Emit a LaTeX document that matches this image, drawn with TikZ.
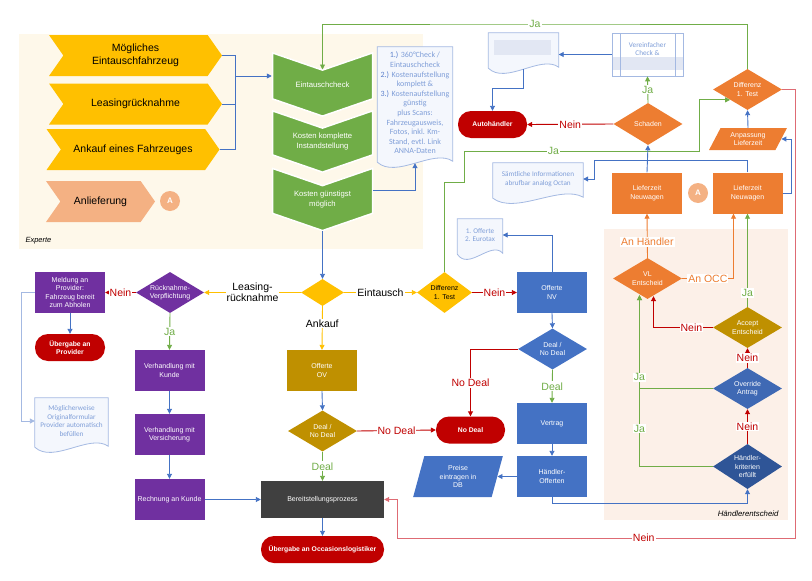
\documentclass[tikz,border=0pt]{standalone}
\usepackage{fontspec}
\setmainfont{Liberation Sans}
\newfontfamily\notefont{Carlito}
\usetikzlibrary{arrows.meta,positioning,calc,shapes.geometric,shapes.symbols}

\definecolor{gelb}{HTML}{FFC000}
\definecolor{lachs}{HTML}{F4B183}
\definecolor{gruen}{HTML}{70AD47}
\definecolor{blau}{HTML}{4472C4}
\definecolor{oblau}{HTML}{3F69B4}
\definecolor{dblau}{HTML}{2F5597}
\definecolor{orng}{HTML}{ED7D31}
\definecolor{lila}{HTML}{7030A0}
\definecolor{gold}{HTML}{BF9000}
\definecolor{rot}{HTML}{C00000}
\definecolor{hellrot}{HTML}{DE6B74}
\definecolor{grau}{HTML}{404040}
\definecolor{creme}{HTML}{FEF8EA}
\definecolor{pfirsich}{HTML}{FCF0E8}
\definecolor{doctext}{HTML}{7F9ED8}
\definecolor{docnum}{HTML}{5B80CC}
\definecolor{docline}{HTML}{A4B9E2}
\definecolor{docfill}{HTML}{F4F7FD}
\definecolor{blur}{HTML}{E2E7F3}

\pgfdeclarelayer{back}
\pgfdeclarelayer{docs}
\pgfsetlayers{back,docs,main}

\newcommand\docform[1]{%
  \draw[docline,fill=docfill,line width=.8pt] (#1.north west) -- (#1.north east)
    -- ([yshift=-2pt]#1.south east)
    .. controls ($(#1.south)!.5!(#1.south east)+(0pt,11pt)$) and ($(#1.south)!.5!(#1.south west)+(0pt,-20pt)$)
    .. ([yshift=-3pt]#1.south west) -- cycle;}

\tikzset{
  base/.style={inner sep=1pt, align=center, text=white, font=\fontsize{7}{8.4}\selectfont},
  chev/.style={signal, signal from=west, signal to=east, signal pointer angle=110, fill=gelb,
    minimum width=173, minimum height=41, align=center, font=\fontsize{10.5}{12.6}\selectfont},
  gchev/.style={base, signal, signal from=north, signal to=south, signal pointer angle=142,
    fill=gruen, draw=white, line width=1.5pt, minimum width=100, minimum height=48,
    font=\fontsize{7.7}{9.4}\selectfont},
  box/.style={base, rectangle, minimum width=70, minimum height=41},
  dia/.style={base, diamond, aspect=1.7, inner sep=0pt, minimum width=69, minimum height=41},
  term/.style={base, rectangle, rounded corners=13pt, fill=rot, minimum height=27,
    font=\fontsize{6.8}{8}\selectfont\bfseries},
  para/.style={base, trapezium, trapezium stretches=true, fill=blau},
  doc/.style={inner sep=1pt, align=center, text=doctext, font=\notefont\fontsize{7.2}{8.6}\selectfont},
  predef/.style={rectangle, draw=docline, fill=white, line width=.8pt, text=doctext, align=center,
    inner sep=1pt, font=\notefont\fontsize{7.2}{8.6}\selectfont, minimum width=71, minimum height=43,
    path picture={
      \fill[blur] ([yshift=6pt]path picture bounding box.south west) rectangle ([yshift=19pt]path picture bounding box.south east);
      \draw[docline, line width=.8pt] ([xshift=8pt]path picture bounding box.north west) -- ([xshift=8pt]path picture bounding box.south west)
        ([xshift=-8pt]path picture bounding box.north east) -- ([xshift=-8pt]path picture bounding box.south east);}},
  kreis/.style={circle, fill=lachs, text=white, minimum size=20, inner sep=0pt, font=\fontsize{8}{8}\selectfont\bfseries},
  lbl/.style={fill=white, inner sep=1pt, align=center, font=\fontsize{10.5}{11}\selectfont},
  con/.style={draw=blau, line width=.9pt},
  arr/.style={con, -{Triangle[length=5pt,width=5pt]}}
}

\begin{document}
\begin{tikzpicture}[x=1pt,y=-1pt]
\useasboundingbox (0,0) rectangle (812,581);
\begin{pgfonlayer}{back}
\fill[creme] (19,34) rectangle (423,249);
\fill[pfirsich] (604,229) rectangle (788,520);
\end{pgfonlayer}
\node[anchor=west, font=\fontsize{7.5}{9}\selectfont\itshape] (experte) at (22,241) {Experte};
\node[anchor=east, font=\fontsize{7.8}{9}\selectfont\itshape] (entscheidTxt) at (782,514) {Händlerentscheid};

% Eingang
\node[chev] (moeglich) at (135.5,55.5) {Mögliches\\Eintauschfahrzeug};
\node[chev] (leasing) at (135.5,104) {Leasingrücknahme};
\node[chev] (ankauf) at (133,149.5) {Ankauf eines Fahrzeuges};
\node[chev, fill=lachs, minimum width=109] (anlief) at (100.5,201.5) {Anlieferung};
\node[kreis] (kreisA) at (170,201) {A};

% Experte
\node[gchev] (check) at (322.5,84.5) {Eintauschcheck};
\node[gchev] (komplett) at (322.5,141.5) {Kosten komplette\\Instandstellung};
\node[gchev] (guenstig) at (322.5,199.5) {Kosten günstigst\\möglich};
\node[doc, minimum width=75, minimum height=112, font=\notefont\fontsize{8}{9.6}\selectfont] (notes) at (415,103)
  {{\color{docnum}1.)} 360°Check /\\Eintauschcheck\\{\color{docnum}2.)} Kostenaufstellung\\komplett \&\\
   {\color{docnum}3.)} Kostenaufstellung\\günstig\\plus Scans:\\Fahrzeugausweis,\\Fotos, inkl. Km-\\Stand, evtl. Link\\ANNA-Daten};

% Weiche
\node[dia, fill=gelb, minimum width=43, minimum height=27, aspect=1.6] (art) at (322.5,292.5) {};
\node[dia, fill=gelb, text=black, minimum width=55, aspect=1.35] (diffGelb) at (444.5,292.5) {Differenz\\1. Test};
\node[dia, fill=lila, minimum width=68, aspect=1.66] (ruecknahme) at (170,292.5) {Rücknahme-\\Verpflichtung};

% Leasing
\node[box, fill=lila] (meldung) at (70,292.5) {Meldung an\\Provider:\\Fahrzeug bereit\\zum Abholen};
\node[term, minimum width=70] (uebProv) at (70,347.5) {Übergabe an\\Provider};
\node[doc, minimum width=73, minimum height=46] (formular) at (71.5,421) {Möglicherweise\\Originalformular\\Provider automatisch\\befüllen};
\node[box, fill=lila] (verhKunde) at (169.5,370.5) {Verhandlung mit\\Kunde};
\node[box, fill=lila] (verhVers) at (169.5,434.5) {Verhandlung mit\\Versicherung};
\node[box, fill=lila] (rechnung) at (169.5,499.5) {Rechnung an Kunde};

% Ankauf
\node[box, fill=gold] (offOV) at (322,370.5) {Offerte\\OV};
\node[dia, fill=gold] (dealOV) at (322.5,431) {Deal /\\No Deal};
\node[box, fill=grau, minimum width=123, minimum height=37] (bereit) at (322.5,499.5) {Bereitstellungsprozess};
\node[term, minimum width=123] (uebOcc) at (322.5,549.5) {Übergabe an Occasionslogistiker};

% Eintausch
\node[box, fill=blau] (offNV) at (552,292.5) {Offerte\\NV};
\node[doc, minimum width=45, minimum height=32] (eurotax) at (480,235) {1. Offerte\\2. Eurotax};
\node[dia, fill=blau] (dealNV) at (552.5,349) {Deal /\\No Deal};
\node[term, minimum width=69] (noDeal) at (470.5,430) {No Deal};
\node[box, fill=blau] (vertrag) at (552,423.5) {Vertrag};
\node[box, fill=blau] (hOff) at (552,476.5) {Händler-\\Offerten};
\node[para, trapezium left angle=75, trapezium right angle=105, minimum width=90, minimum height=41] (preise) at (458,476.5) {Preise\\eintragen in\\DB};

% oben rechts
\node[doc, minimum width=70, minimum height=32] (leer) at (523.5,49) {};
\node[predef] (vereinf) at (647.5,54.5) {Vereinfacher\\Check \&\\\strut};
\node[term, minimum width=69] (autoh) at (492.5,124.5) {Autohändler};
\node[dia, fill=orng, minimum height=42] (schaden) at (648,124) {Schaden};
\node[dia, fill=orng] (diffOr) at (747.5,89.5) {Differenz\\1. Test};
\node[para, fill=orng, trapezium left angle=63, trapezium right angle=117, minimum width=78, minimum height=22] (anpass) at (748,139) {Anpassung\\Lieferzeit};
\node[doc, minimum width=90, minimum height=32] (infos) at (538,179) {Sämtliche Informationen\\abrufbar analog Octan};
\node[box, fill=orng] (lzL) at (647,193) {Lieferzeit\\Neuwagen};
\node[kreis] (kreisA2) at (698,193) {A};
\node[box, fill=orng] (lzR) at (747.5,193) {Lieferzeit\\Neuwagen};

% Haendlerentscheid
\node[dia, fill=orng] (vl) at (647.5,278.5) {VL\\Entscheid};
\node[dia, fill=gold] (accept) at (747.5,327.5) {Accept\\Entscheid};
\node[dia, fill=oblau] (override) at (747.5,388.5) {Override\\Antrag};
\node[dia, fill=dblau, minimum height=45] (kriterien) at (747.5,466.5) {Händler-\\kriterien\\erfüllt};

\begin{pgfonlayer}{docs}
\docform{notes}
\docform{infos}
\docform{eurotax}
\docform{formular}
\docform{leer}
\fill[blur] ([xshift=6pt,yshift=-7pt]leer.north west) rectangle ([xshift=-8pt,yshift=-22pt]leer.north east);
\end{pgfonlayer}

% Verbindungen
\coordinate (sammel) at (235,76);
\draw[con] (moeglich.east) -| (sammel);
\draw[con] (leasing.east) -| (sammel);
\draw[con] (ankauf.east) -| (sammel);
\draw[arr] (sammel) -- (sammel -| check.west);
\draw[arr] ([yshift=9pt]guenstig.east) -| ([yshift=-4pt]notes.south);
\coordinate (jaOben) at (535,24);
\draw[arr, draw=gruen] (diffOr.north) |- (jaOben) node[lbl, text=gruen]{Ja} -| ([yshift=15pt]check.center);
\draw[arr] (guenstig.south) -- (art.north);

\draw[arr, draw=gelb] (art.west) -- node[lbl]{Leasing-\\rücknahme} (ruecknahme.east);
\draw[arr, draw=gelb] (art.east) -- node[lbl]{Eintausch} (diffGelb.west);
\draw[arr, draw=gelb] (art.south) -- node[lbl, pos=.4]{Ankauf} (offOV.north);

\draw[arr, draw=rot] (ruecknahme.west) -- node[lbl, text=rot]{Nein} (meldung.east);
\draw[arr] (meldung.south) -- (uebProv.north);
\draw[arr, draw=docline] (meldung.west) -- ++(-13,0) |- (formular.west);
\draw[arr, draw=gruen] (ruecknahme.south) -- node[lbl, text=gruen]{Ja} (verhKunde.north);
\draw[arr] (verhKunde.south) -- (verhVers.north);
\draw[arr] (verhVers.south) -- (rechnung.north);
\draw[arr] (rechnung.east) -- (bereit.west);

\draw[arr] (offOV.south) -- (dealOV.north);
\draw[arr, draw=rot] (dealOV.east) -- node[lbl, text=rot]{No Deal} (noDeal.west);
\draw[arr, draw=gruen] (dealOV.south) -- node[lbl, text=gruen]{Deal} (bereit.north);
\draw[arr] (bereit.south) -- (uebOcc.north);

\draw[arr, draw=rot] (diffGelb.east) -- node[lbl, text=rot]{Nein} (offNV.west);
\draw[arr] (offNV.north) |- (eurotax.east);
\draw[arr] (offNV.south) -- (dealNV.north);
\draw[arr, draw=rot] (dealNV.west) -| node[lbl, text=rot, pos=.75]{No Deal} (noDeal.north);
\draw[arr, draw=gruen] (dealNV.south) -- node[lbl, text=gruen]{Deal} (vertrag.north);
\draw[arr] (vertrag.south) -- (hOff.north);
\draw[arr] (hOff.west) -- (preise.east);
\draw[arr] (hOff.south) -- ++(0,6) -| (kriterien.south);
\coordinate (gA) at (464,182);
\coordinate (gB) at (699,151);
\draw[arr, draw=gruen] (diffGelb.north) |- (gA) |- node[lbl, text=gruen, pos=.69]{Ja} (gB) |- (diffOr.south west);

\draw[arr] (vereinf.west) -- (vereinf.west -| leer.east);
\draw[arr] ([yshift=-4pt]leer.south) -- ++(0,19) -| (autoh.north);
\draw[arr, draw=rot] (schaden.west) -- node[lbl, text=rot]{Nein} (autoh.east);
\draw[arr, draw=gruen] (schaden.north) -- node[lbl, text=gruen]{Ja} (vereinf.south);
\draw[arr] (lzL.north) -- (schaden.south);
\coordinate (bKnick) at (594,160);
\draw[arr] (lzR.north) |- (bKnick) |- (infos.east);
\draw[arr] (lzR.east) -- ++(9,0) |- (anpass.east);
\draw[arr] (anpass.north) -- (diffOr.south);
\coordinate (nR) at (795,538);
\coordinate (nL) at (397,538);
\draw[arr, draw=hellrot] (diffOr.east) -| (nR) -- node[lbl, text=rot, pos=.38]{Nein} (nL) |- (bereit.east);

\draw[arr, draw=orng] (vl.north) -- node[lbl, text=orng, pos=.36]{An Händler} (lzL.south);
\draw[arr, draw=orng] (vl.east) -| node[lbl, text=orng, pos=.25]{An OCC} ([xshift=-14pt]lzR.south);
\draw[arr, draw=gruen] (accept.north) -- node[lbl, text=gruen, pos=.15]{Ja} (lzR.south);
\draw[arr, draw=rot] (accept.west) -| node[lbl, text=rot, pos=.18]{Nein} ([xshift=6pt,yshift=3pt]vl.south);
\draw[arr, draw=rot] (override.north) -- node[lbl, text=rot]{Nein} (accept.south);
\draw[arr, draw=gruen] (kriterien.west) -| node[lbl, text=gruen, pos=.61]{Ja} ([xshift=-8pt,yshift=4pt]vl.south);
\draw[arr, draw=gruen] (override.west) -| node[lbl, text=gruen, pos=.56]{Ja} ([xshift=-8pt,yshift=4pt]vl.south);
\draw[arr, draw=rot] (kriterien.north) -- node[lbl, text=rot]{Nein} (override.south);
\end{tikzpicture}
\end{document}
